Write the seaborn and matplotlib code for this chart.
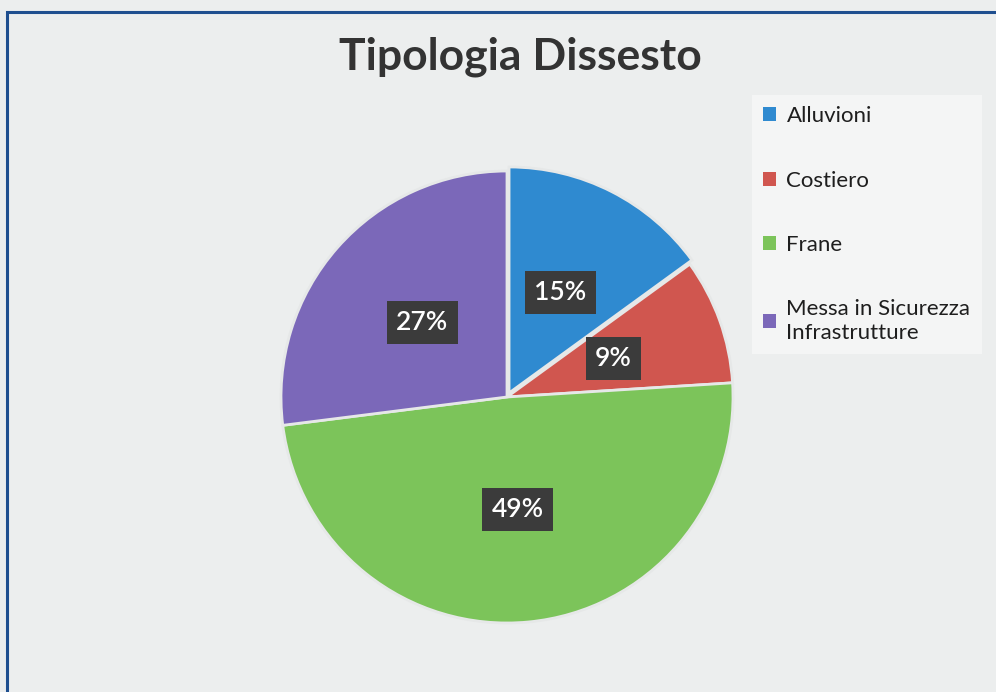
import matplotlib
matplotlib.use("Agg")
import matplotlib.pyplot as plt
from matplotlib.patches import Rectangle
import seaborn as sns

# Data
categories = ["Alluvioni", "Costiero", "Frane", "Messa in Sicurezza\nInfrastrutture"]
shares = [15, 9, 49, 27]
slice_colors = ["#2f8ad0", "#d0564f", "#7cc45a", "#7b68b9"]
explode = [0.02, 0, 0, 0]

sns.set_theme(style="white")
plt.rcParams["font.family"] = ["Lato", "DejaVu Sans"]

fig = plt.figure(figsize=(9.96, 6.92), dpi=100, facecolor="#eceeee")

# thin blue frame of the scanned chart
fig.patches.append(
    Rectangle((7 / 996, -0.05), 1.1, 1 - 12 / 692 + 0.05,
              transform=fig.transFigure, fill=False,
              edgecolor="#1f4f8f", linewidth=2.2, zorder=0)
)

# pie axes: centre ~ (507, 397) px, radius ~ 226 px
r = 226
ax = fig.add_axes([(507 - r) / 996, (692 - 397 - r) / 692, 2 * r / 996, 2 * r / 692])
ax.set_facecolor("none")

wedges, texts, autotexts = ax.pie(
    shares,
    colors=slice_colors,
    startangle=90,
    counterclock=False,
    explode=explode,
    autopct=lambda p: f"{p:.0f}%",
    pctdistance=0.5,
    wedgeprops=dict(edgecolor="#e6e8e8", linewidth=2),
)
for t in autotexts:
    t.set_color("white")
    t.set_fontsize(19)
    t.set_fontweight("semibold")
    t.set_bbox(dict(boxstyle="square,pad=0.35", facecolor="#3b3b3b", edgecolor="none"))
ax.set_xlim(-1.0, 1.0)
ax.set_ylim(-1.0, 1.0)
ax.set_aspect("equal")

fig.text(0.522, 0.918, "Tipologia Dissesto", ha="center", va="center",
         fontsize=32, fontweight="bold", color="#333333")

leg = fig.legend(
    wedges, categories,
    loc="upper left", bbox_to_anchor=(752 / 996, 1 - 95 / 692),
    frameon=True, fontsize=16, labelspacing=2.0,
    handlelength=0.6, handleheight=0.6, handletextpad=0.45,
    borderpad=0.5, borderaxespad=0, fancybox=False,
)
leg.get_frame().set_facecolor("#f7f8f8")
leg.get_frame().set_edgecolor("none")
for t in leg.get_texts():
    t.set_color("#1e1e1e")
for h in leg.legend_handles:
    h.set_edgecolor("none")

fig.savefig("out.png", dpi=100, facecolor=fig.get_facecolor())
